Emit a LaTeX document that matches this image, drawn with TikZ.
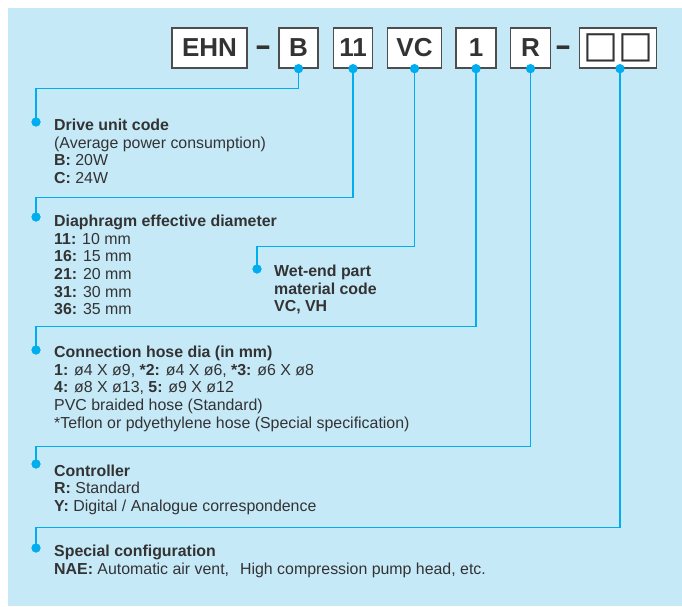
\documentclass[tikz,border=0pt]{standalone}
\usepackage{graphicx}
\usepackage{fontspec}
\setmainfont{Liberation Sans}
\newfontfamily\symfont{DejaVu Sans}
\definecolor{bgblue}{HTML}{C6E9F8}
\definecolor{cyanline}{HTML}{00AEEF}
\definecolor{txt}{HTML}{333333}
\definecolor{boxline}{HTML}{4D4D4D}
\tikzset{
  codebox/.style={draw=boxline, line width=1.3pt, fill=white, text=txt,
    font=\fontsize{26}{26}\selectfont\bfseries, minimum height=40pt, inner sep=0pt},
  dashtxt/.style={text=txt, font=\fontsize{30}{30}\selectfont\bfseries, inner sep=0pt, anchor=base},
  dot/.style={circle, fill=cyanline, inner sep=0pt, minimum size=9pt},
  conn/.style={draw=cyanline, line width=1.3pt},
  desc/.style={anchor=north west, inner sep=0pt, align=left, text=txt,
    font=\fontsize{15.9}{17.6}\selectfont}
}
\begin{document}
\begin{tikzpicture}[x=1pt,y=-1pt]
\useasboundingbox (0,0) rectangle (682,607);
\fill[bgblue] (8,8) rectangle (682,606);

% code boxes
\node[codebox, minimum width=75pt] (bEHN) at (209.5,48) {EHN};
\node[dashtxt] (dash1) at (263,55.6) {\scalebox{1.65}[1]{-}};
\node[codebox, minimum width=39pt] (bB) at (298.5,48) {B};
\node[codebox, minimum width=39pt] (b11) at (353,48) {11};
\node[codebox, minimum width=54pt] (bVC) at (414.5,48) {VC};
\node[codebox, minimum width=40pt] (b1) at (476,48) {1};
\node[codebox, minimum width=40pt] (bR) at (530.5,48) {R};
\node[dashtxt] (dash2) at (563,55.6) {\scalebox{1.65}[1]{-}};
\node[codebox, minimum width=77pt] (bS) at (618,48) {\symfont\fontsize{37}{37}\selectfont □□};

% end dots
\node[dot] (eB) at (36,122) {};
\node[dot] (e11) at (36,217) {};
\node[dot] (eVC) at (257,269) {};
\node[dot] (e1) at (36,350) {};
\node[dot] (eR) at (36,464) {};
\node[dot] (eS) at (36,548) {};

% start dots
\node[dot] (sB) at (bB.south) {};
\node[dot] (s11) at (b11.south) {};
\node[dot] (sVC) at (bVC.south) {};
\node[dot] (s1) at (b1.south) {};
\node[dot] (sR) at (bR.south) {};
\node[dot] (sS) at ([xshift=2pt]bS.south) {};

% connectors
\draw[conn] (sB.center) -- ++(0,20) -| (eB.center);
\draw[conn] (s11.center) -- ++(0,129) -| (e11.center);
\draw[conn] (sVC.center) -- ++(0,178) -| (eVC.center);
\draw[conn] (s1.center) -- ++(0,258) -| (e1.center);
\draw[conn] (sR.center) -- ++(0,378) -| (eR.center);
\draw[conn] (sS.center) -- ++(0,459) -| (eS.center);

% redraw dots over lines
\foreach \n in {eB,e11,eVC,e1,eR,eS,sB,s11,sVC,s1,sR,sS}
  \fill[cyanline] (\n) circle (4.5pt);

% descriptions
\node[desc] (tB) at (54,118.2) {\strut\textbf{Drive unit code}\\
(Average power consumption)\\
\textbf{B:} 20W\\
\textbf{C:} 24W};

\node[desc] (t11) at (54,214.2) {\strut\textbf{Diaphragm effective diameter}\\
\textbf{11:} 10 mm\\
\textbf{16:} 15 mm\\
\textbf{21:} 20 mm\\
\textbf{31:} 30 mm\\
\textbf{36:} 35 mm};

\node[desc, font=\fontsize{15.9}{17.6}\selectfont\bfseries] (tVC) at (274,264.2) {\strut Wet-end part\\
material code\\
VC, VH};

\node[desc] (t1) at (54,345.2) {\strut\textbf{Connection hose dia (in mm)}\\
\textbf{1:} ø4 X ø9, \textbf{*2:} ø4 X ø6, \textbf{*3:} ø6 X ø8\\
\textbf{4:} ø8 X ø13, \textbf{5:} ø9 X ø12\\
PVC braided hose (Standard)\\
*Teflon or pdyethylene hose (Special specification)};

\node[desc] (tR) at (54,463.5) {\strut\textbf{Controller}\\
\textbf{R:} Standard\\
\textbf{Y:} Digital / Analogue correspondence};

\node[desc] (tS) at (54,544.2) {\strut\textbf{Special configuration}\\
\textbf{NAE:} Automatic air vent,\hspace{11pt}High compression pump head, etc.};
\end{tikzpicture}
\end{document}
